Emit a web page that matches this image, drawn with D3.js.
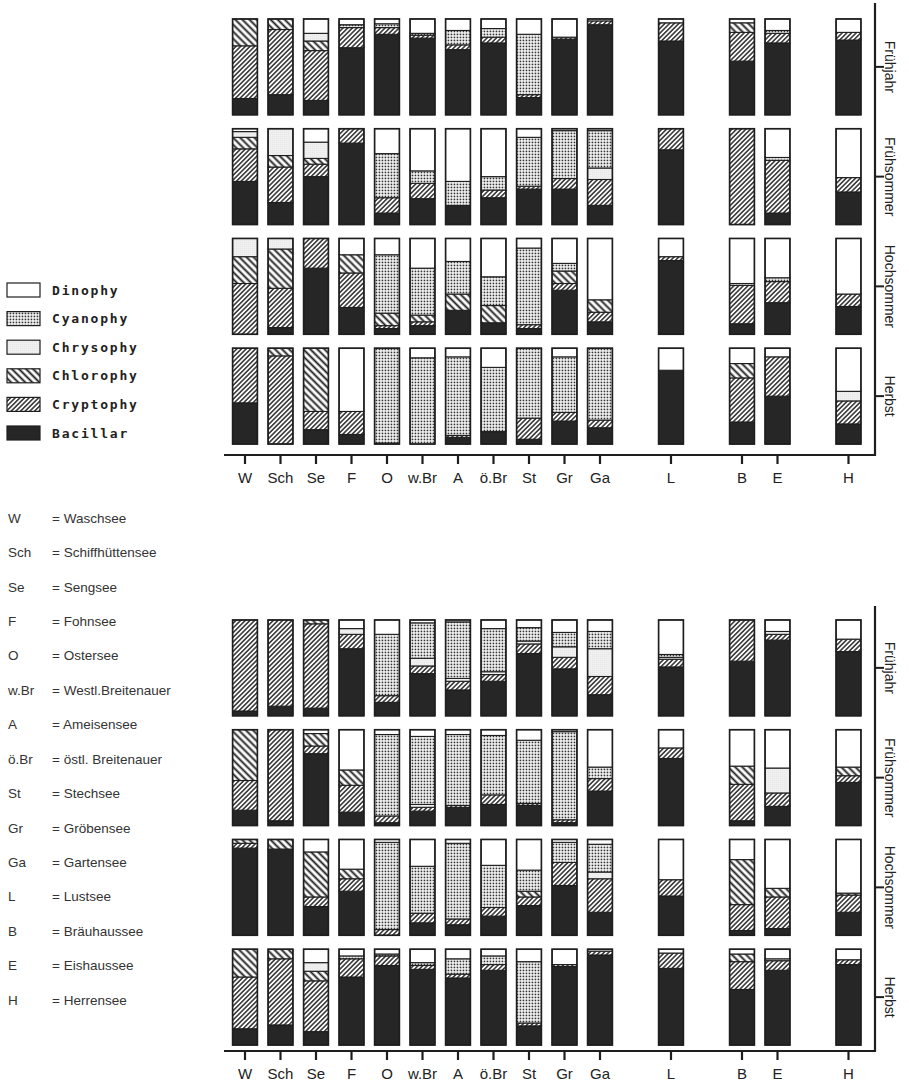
<!DOCTYPE html>
<html>
<head>
<meta charset="utf-8">
<script src="https://cdn.jsdelivr.net/npm/d3@7"></script>
<style>
  body { margin: 0; background: #fff; }
  svg { display: block; }
</style>
</head>
<body>
<div id="chart"></div>
<script>
// ---------------------------------------------------------------------------
// DATA
// ---------------------------------------------------------------------------
const lakes = ['W', 'Sch', 'Se', 'F', 'O', 'w.Br', 'A', 'ö.Br', 'St', 'Gr', 'Ga', 'L', 'B', 'E', 'H'];
const lakeNames = ['Waschsee', 'Schiffhüttensee', 'Sengsee', 'Fohnsee', 'Ostersee', 'Westl.Breitenauer',
  'Ameisensee', 'östl. Breitenauer', 'Stechsee', 'Gröbensee', 'Gartensee', 'Lustsee',
  'Bräuhaussee', 'Eishaussee', 'Herrensee'];
const gapsAfter = ['Ga', 'L', 'E'];
const seasons = ['Frühjahr', 'Frühsommer', 'Hochsommer', 'Herbst'];
// stack order, bottom to top
const groups = ['Bacillar', 'Cryptophy', 'Chlorophy', 'Chrysophy', 'Cyanophy', 'Dinophy'];
const legendOrder = ['Dinophy', 'Cyanophy', 'Chrysophy', 'Chlorophy', 'Cryptophy', 'Bacillar'];

// one row per lake: [Bacillar, Cryptophy, Chlorophy, Chrysophy, Cyanophy, Dinophy] in %
const upperFruehjahr = [
  [17, 55, 28, 0, 0, 0], [21, 68, 11, 0, 0, 0], [15, 52, 10, 8, 0, 15], [70, 21, 0, 0, 3, 6],
  [84, 7, 0, 0, 4, 5], [80, 3, 0, 0, 2, 15], [68, 5, 0, 0, 15, 12], [75, 6, 0, 0, 9, 10],
  [18, 3, 0, 0, 63, 16], [79, 2, 0, 0, 0, 19], [94, 4, 0, 0, 0, 2], [77, 19, 0, 0, 0, 4],
  [56, 30, 10, 0, 0, 4], [75, 10, 0, 0, 3, 12], [78, 8, 0, 0, 0, 14]
];
const upperFruehsommer = [
  [45, 34, 12, 6, 0, 3], [23, 37, 12, 28, 0, 0], [50, 13, 6, 17, 0, 14], [85, 15, 0, 0, 0, 0],
  [12, 16, 0, 0, 46, 26], [27, 16, 0, 0, 13, 44], [20, 0, 0, 0, 25, 55], [28, 8, 0, 0, 14, 50],
  [37, 3, 0, 0, 51, 9], [37, 11, 0, 0, 50, 2], [20, 27, 0, 12, 39, 2], [78, 22, 0, 0, 0, 0],
  [0, 100, 0, 0, 0, 0], [12, 55, 0, 0, 3, 30], [34, 15, 0, 0, 0, 51]
];
const upperHochsommer = [
  [0, 53, 28, 19, 0, 0], [7, 41, 41, 11, 0, 0], [69, 31, 0, 0, 0, 0], [28, 36, 19, 0, 0, 17],
  [6, 3, 13, 0, 61, 17], [9, 4, 7, 0, 49, 31], [25, 0, 17, 0, 34, 24], [12, 0, 18, 0, 30, 40],
  [6, 4, 0, 0, 80, 10], [46, 7, 13, 0, 8, 26], [13, 10, 13, 0, 0, 64], [77, 4, 0, 0, 0, 19],
  [11, 40, 0, 0, 2, 47], [33, 22, 0, 0, 4, 41], [29, 13, 0, 0, 0, 58]
];
const upperHerbst = [
  [43, 57, 0, 0, 0, 0], [0, 92, 8, 0, 0, 0], [15, 19, 66, 0, 0, 0], [10, 24, 0, 0, 0, 66],
  [1, 0, 0, 0, 99, 0], [0, 0, 0, 0, 90, 10], [7, 2, 0, 0, 82, 9], [13, 0, 0, 0, 67, 20],
  [5, 22, 0, 0, 73, 0], [24, 9, 0, 0, 58, 9], [17, 8, 0, 0, 75, 0], [77, 0, 0, 0, 0, 23],
  [23, 46, 15, 0, 0, 16], [50, 41, 0, 0, 0, 9], [21, 24, 0, 10, 0, 45]
];
const lowerFruehjahr = [
  [5, 95, 0, 0, 0, 0], [10, 90, 0, 0, 0, 0], [8, 88, 4, 0, 0, 0], [70, 15, 0, 6, 0, 9],
  [14, 7, 0, 0, 64, 15], [44, 8, 0, 8, 37, 3], [27, 9, 0, 3, 59, 2], [36, 7, 0, 3, 45, 9],
  [65, 10, 0, 3, 14, 8], [49, 12, 0, 11, 15, 13], [22, 19, 0, 29, 18, 12], [51, 8, 0, 2, 3, 36],
  [57, 43, 0, 0, 0, 0], [79, 6, 0, 3, 0, 12], [67, 13, 0, 0, 0, 20]
];
const lowerFruehsommer = [
  [16, 31, 53, 0, 0, 0], [5, 95, 0, 0, 0, 0], [75, 8, 13, 0, 0, 4], [14, 28, 16, 0, 0, 42],
  [3, 7, 0, 0, 85, 5], [15, 4, 0, 3, 71, 7], [19, 2, 0, 0, 74, 5], [22, 10, 0, 0, 62, 6],
  [21, 2, 0, 0, 66, 11], [3, 3, 0, 0, 92, 2], [36, 13, 0, 0, 12, 39], [70, 11, 0, 0, 0, 19],
  [5, 38, 19, 0, 0, 38], [20, 14, 0, 26, 0, 40], [45, 7, 9, 0, 0, 39]
];
const lowerHochsommer = [
  [91, 5, 4, 0, 0, 0], [90, 0, 10, 0, 0, 0], [30, 10, 47, 0, 0, 13], [46, 13, 10, 0, 0, 31],
  [0, 6, 0, 0, 91, 3], [13, 10, 0, 0, 49, 28], [11, 6, 0, 0, 79, 4], [20, 9, 0, 0, 44, 27],
  [31, 9, 6, 0, 22, 32], [52, 24, 0, 0, 21, 3], [24, 35, 0, 7, 29, 5], [41, 17, 0, 0, 0, 42],
  [5, 27, 47, 0, 0, 21], [7, 33, 9, 0, 0, 51], [24, 18, 2, 0, 0, 56]
];
const lowerHerbst = [
  [17, 54, 29, 0, 0, 0], [21, 69, 10, 0, 0, 0], [14, 53, 10, 9, 0, 14], [71, 19, 0, 0, 3, 7],
  [83, 10, 0, 0, 2, 5], [79, 4, 0, 0, 3, 14], [70, 4, 0, 0, 16, 10], [78, 6, 0, 0, 9, 7],
  [20, 3, 0, 0, 64, 13], [82, 2, 0, 0, 0, 16], [94, 4, 0, 0, 0, 2], [80, 16, 0, 0, 0, 4],
  [58, 29, 8, 0, 0, 5], [78, 10, 0, 0, 2, 10], [84, 5, 0, 0, 0, 11]
];

// ---------------------------------------------------------------------------
// LAYOUT
// ---------------------------------------------------------------------------
const width = 909, height = 1082;
const ink = '#1e1e1e';
const labelFont = '"Liberation Sans", Arial, Helvetica, sans-serif';

const panels = [
  { data: [upperFruehjahr, upperFruehsommer, upperHochsommer, upperHerbst], rows: [12, 451], axisY: 455, topY: 3 },
  { data: [lowerFruehjahr, lowerFruehsommer, lowerHochsommer, lowerHerbst], rows: [613, 1052], axisY: 1051, topY: 606 }
];

const svg = d3.select('#chart').append('svg')
  .attr('width', width)
  .attr('height', height)
  .attr('viewBox', `0 0 ${width} ${height}`);

svg.append('rect').attr('width', width).attr('height', height).attr('fill', '#fff');

// PATTERNS
const defs = svg.append('defs');

function hatch(id, size, angle, sw) {
  const p = defs.append('pattern').attr('id', id)
    .attr('patternUnits', 'userSpaceOnUse')
    .attr('width', size).attr('height', size)
    .attr('patternTransform', `rotate(${angle})`);
  p.append('rect').attr('width', size).attr('height', size).attr('fill', '#fff');
  p.append('line').attr('x1', size / 2).attr('x2', size / 2).attr('y1', 0).attr('y2', size)
    .attr('stroke', ink).attr('stroke-width', sw);
}
hatch('pCryp', 3.3, 45, 1.4);
hatch('pChlo', 5, -45, 1.9);

const pChrys = defs.append('pattern').attr('id', 'pChrys')
  .attr('patternUnits', 'userSpaceOnUse').attr('width', 2).attr('height', 2);
pChrys.append('rect').attr('width', 2).attr('height', 2).attr('fill', '#fff');
pChrys.append('rect').attr('x', 0.5).attr('y', 0.5).attr('width', 0.9).attr('height', 0.9).attr('fill', '#aaa');

const pCyan = defs.append('pattern').attr('id', 'pCyan')
  .attr('patternUnits', 'userSpaceOnUse').attr('width', 3).attr('height', 3);
pCyan.append('rect').attr('width', 3).attr('height', 3).attr('fill', '#fff');
pCyan.append('rect').attr('x', 0.6).attr('y', 0.6).attr('width', 1.7).attr('height', 1.7).attr('fill', '#333');

const fills = {
  Bacillar: '#262626',
  Cryptophy: 'url(#pCryp)',
  Chlorophy: 'url(#pChlo)',
  Chrysophy: 'url(#pChrys)',
  Cyanophy: 'url(#pCyan)',
  Dinophy: '#fff'
};

// SCALES
const slots = lakes.flatMap(l => gapsAfter.includes(l) ? [l, '_' + l] : [l]);
const x = d3.scaleBand()
  .domain(slots)
  .range([227.25, 866.25])
  .paddingInner(0.3)
  .paddingOuter(0.15);

const stack = d3.stack()
  .keys(d3.range(groups.length))
  .value((d, k) => d.v[k])
  .offset(d3.stackOffsetExpand);

// DRAW PANELS
panels.forEach(p => {
  const g = svg.append('g');
  const yRow = d3.scaleBand().domain(seasons).range(p.rows).paddingInner(0.127).paddingOuter(0.0635);

  seasons.forEach((s, i) => {
    const rows = p.data[i].map((v, j) => ({ lake: lakes[j], v }));
    const y = d3.scaleLinear().domain([0, 1]).range([yRow(s) + yRow.bandwidth(), yRow(s)]);

    g.append('g').selectAll('g')
      .data(stack(rows))
      .join('g')
      .attr('fill', d => fills[groups[d.key]])
      .selectAll('rect')
      .data(d => d)
      .join('rect')
      .attr('x', d => x(d.data.lake))
      .attr('width', x.bandwidth())
      .attr('y', d => y(d[1]))
      .attr('height', d => y(d[0]) - y(d[1]))
      .attr('stroke', ink)
      .attr('stroke-width', 1.1);

    // bar outlines
    g.append('g').selectAll('rect')
      .data(rows)
      .join('rect')
      .attr('x', d => x(d.lake))
      .attr('width', x.bandwidth())
      .attr('y', y(1))
      .attr('height', y(0) - y(1))
      .attr('fill', 'none')
      .attr('stroke', ink)
      .attr('stroke-width', 1.6);
  });

  // x axis
  const ax = g.append('g')
    .attr('transform', `translate(0,${p.axisY})`)
    .call(d3.axisBottom(x).tickValues(lakes).tickSize(9).tickSizeOuter(0).tickPadding(8))
    .call(a => a.select('.domain').remove());
  ax.selectAll('.tick line').attr('stroke', ink).attr('stroke-width', 2.2);
  ax.selectAll('.tick text')
    .attr('fill', '#222')
    .style('font-family', labelFont)
    .style('font-size', '15px');
  g.append('line')
    .attr('x1', 224).attr('x2', 876)
    .attr('y1', p.axisY).attr('y2', p.axisY)
    .attr('stroke', ink).attr('stroke-width', 2.2);

  // right axis with season ticks
  const ay = g.append('g')
    .attr('transform', 'translate(875,0)')
    .call(d3.axisRight(yRow).tickSize(9).tickSizeOuter(0).tickFormat(''))
    .call(a => a.select('.domain').remove());
  ay.selectAll('.tick line').attr('stroke', ink).attr('stroke-width', 2);
  g.append('line')
    .attr('x1', 875).attr('x2', 875)
    .attr('y1', p.topY).attr('y2', p.axisY + 1)
    .attr('stroke', ink).attr('stroke-width', 2.2);

  g.selectAll('text.season')
    .data(seasons)
    .join('text')
    .attr('class', 'season')
    .attr('transform', d => `translate(890,${yRow(d) + yRow.bandwidth() / 2}) rotate(90)`)
    .attr('text-anchor', 'middle')
    .attr('dy', '0.35em')
    .attr('fill', '#222')
    .style('font-family', labelFont)
    .style('font-size', '14px')
    .text(d => d);
});

// LEGEND
const legend = svg.append('g');
const legendY = d3.scalePoint().domain(legendOrder).range([290, 433]);
legend.selectAll('rect')
  .data(legendOrder)
  .join('rect')
  .attr('x', 7)
  .attr('y', d => legendY(d) - 7)
  .attr('width', 33)
  .attr('height', 14)
  .attr('fill', d => fills[d])
  .attr('stroke', ink)
  .attr('stroke-width', 1.2);
legend.selectAll('text')
  .data(legendOrder)
  .join('text')
  .attr('x', 52)
  .attr('y', d => legendY(d))
  .attr('dy', '0.35em')
  .attr('fill', '#222')
  .style('font-family', '"DejaVu Sans Mono", monospace')
  .style('font-weight', 'bold')
  .style('font-size', '13px')
  .style('letter-spacing', '1.8px')
  .text(d => d);

// KEY LIST
const key = svg.append('g');
const keyY = d3.scalePoint().domain(lakes).range([518, 1000]);
key.selectAll('text.abbr')
  .data(lakes)
  .join('text')
  .attr('class', 'abbr')
  .attr('x', 8)
  .attr('y', d => keyY(d))
  .attr('dy', '0.35em')
  .attr('fill', '#333')
  .style('font-family', labelFont)
  .style('font-size', '13.5px')
  .text(d => d);
key.selectAll('text.name')
  .data(lakes)
  .join('text')
  .attr('class', 'name')
  .attr('x', 52)
  .attr('y', d => keyY(d))
  .attr('dy', '0.35em')
  .attr('fill', '#333')
  .style('font-family', labelFont)
  .style('font-size', '13.5px')
  .text((d, i) => '= ' + lakeNames[i]);
</script>
</body>
</html>
